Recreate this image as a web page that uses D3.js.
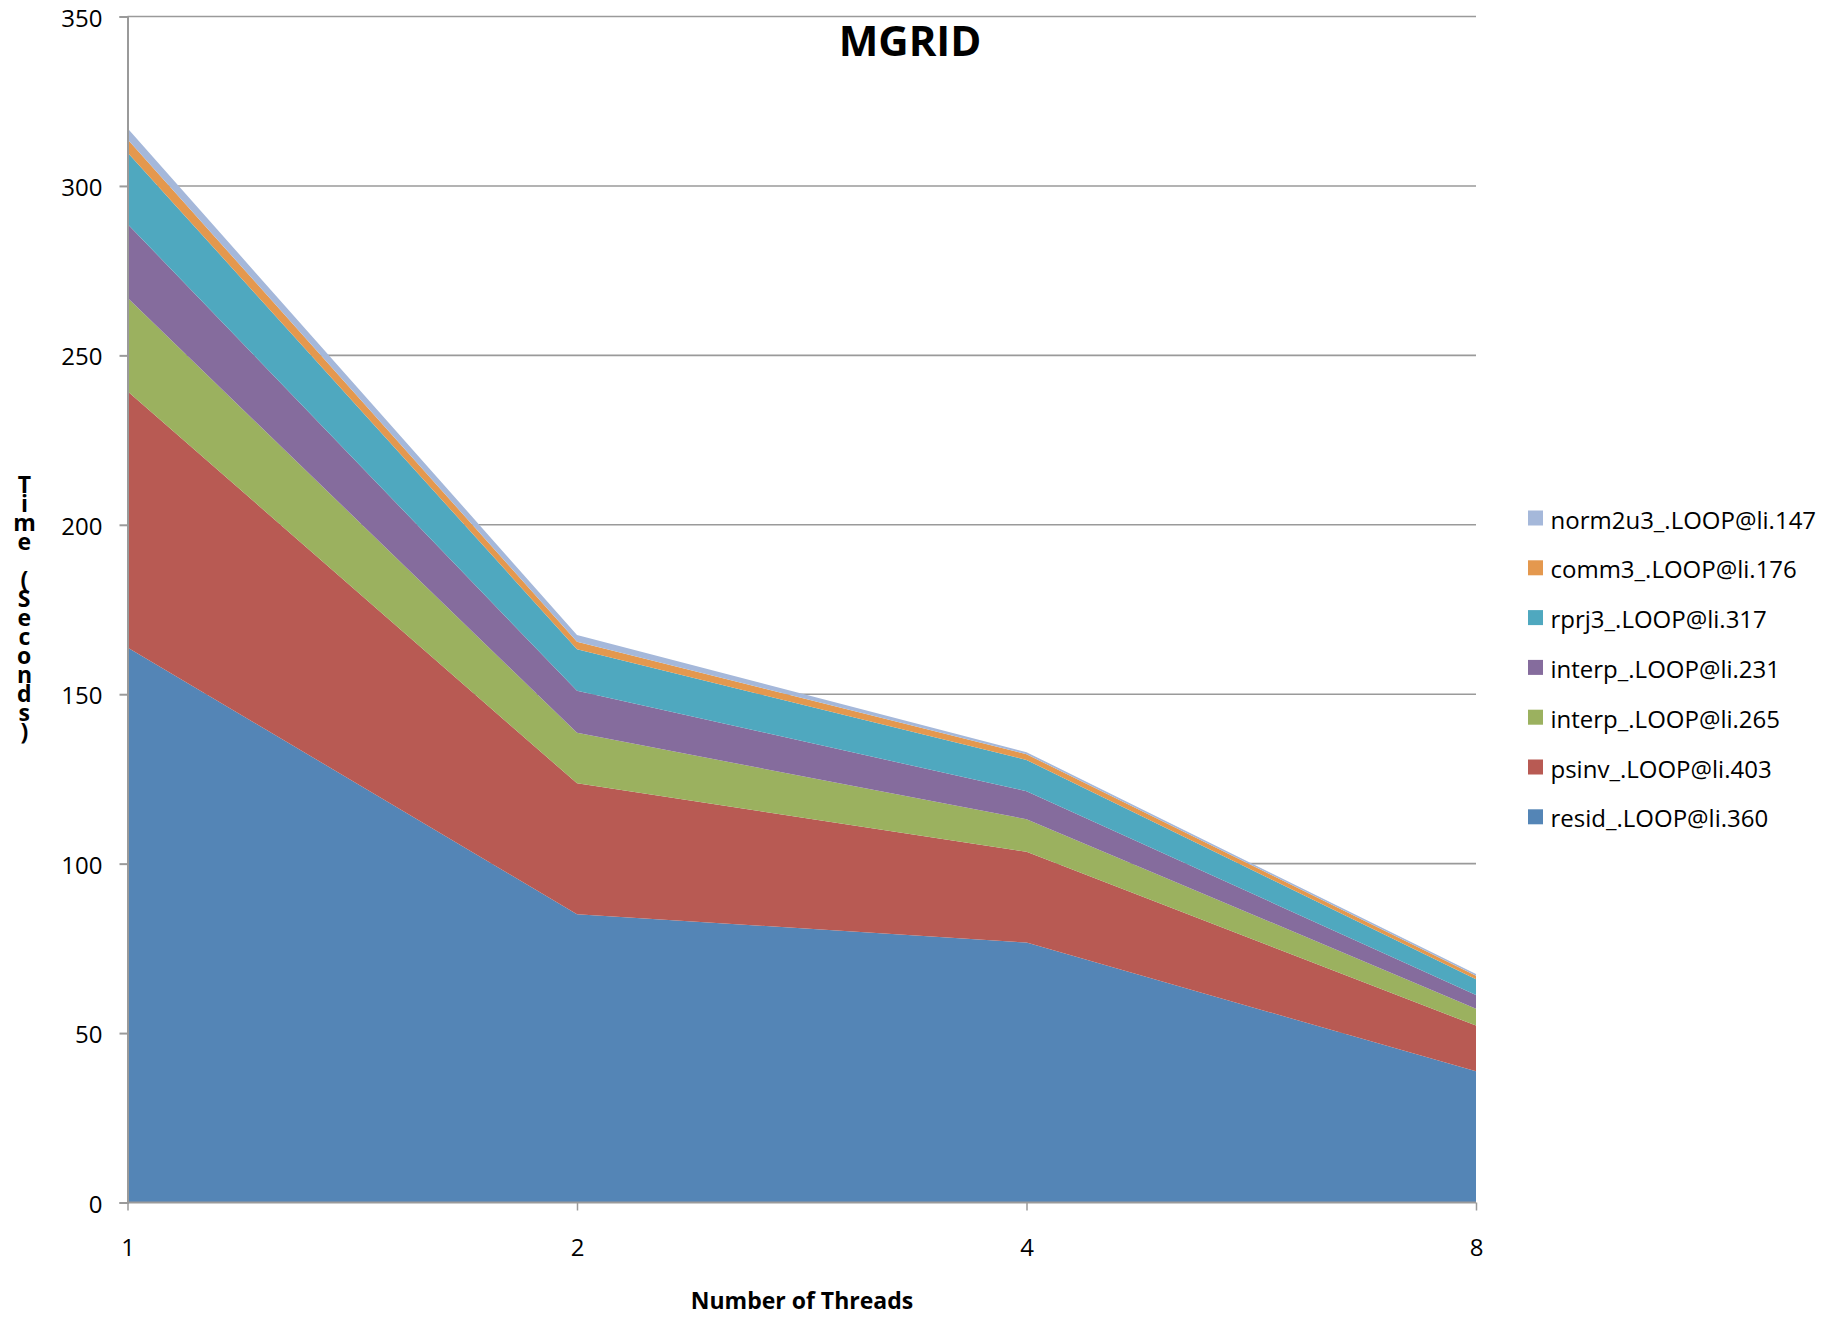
<!DOCTYPE html>
<html>
<head>
<meta charset="utf-8">
<script src="https://cdn.jsdelivr.net/npm/d3@7"></script>
<style>
  html, body { margin: 0; padding: 0; background: #fff; }
  svg { display: block; }
  text { font-family: "Open Sans", "Liberation Sans", sans-serif; fill: #000; }
</style>
</head>
<body>
<svg id="chart" width="1843" height="1326"></svg>
<script>
// Thread counts on the x axis
const threads = ["1", "2", "4", "8"];

// Time per loop (seconds), bottom layer first
const seriesNames = [
  "resid_.LOOP@li.360",
  "psinv_.LOOP@li.403",
  "interp_.LOOP@li.265",
  "interp_.LOOP@li.231",
  "rprj3_.LOOP@li.317",
  "comm3_.LOOP@li.176",
  "norm2u3_.LOOP@li.147"
];
const resid   = [163.8, 85.1, 76.7, 38.7];
const psinv   = [75.6, 38.6, 26.8, 13.5];
const interp265 = [27.6, 14.9, 9.6, 5.0];
const interp231 = [21.8, 12.4, 8.3, 4.0];
const rprj3   = [21.1, 12.3, 9.2, 4.7];
const comm3   = [3.9, 2.2, 1.7, 1.0];
const norm2u3 = [3.2, 2.0, 0.6, 0.5];

const yTicks = [0, 50, 100, 150, 200, 250, 300, 350];

const seriesColors = ["#5485b6", "#b85a53", "#9bb15f", "#856c9d", "#4fa8bf", "#e4984e", "#a5b8da"];

const seriesValues = [resid, psinv, interp265, interp231, rprj3, comm3, norm2u3];
const rows = threads.map((t, i) => {
  const r = { threads: t };
  seriesNames.forEach((n, k) => { r[n] = seriesValues[k][i]; });
  return r;
});

const svg = d3.select("#chart");
const plotLeft = 127.5, plotRight = 1476, plotTop = 16.5, plotBottom = 1202.5;

const x = d3.scalePoint().domain(threads).range([plotLeft, plotRight]);
const y = d3.scaleLinear().domain([0, 350]).range([plotBottom, plotTop]);

// horizontal gridlines
svg.append("g")
  .selectAll("line")
  .data(yTicks.filter(v => v > 0))
  .join("line")
  .attr("x1", plotLeft).attr("x2", plotRight)
  .attr("y1", d => y(d)).attr("y2", d => y(d))
  .attr("stroke", "#9a9a9a").attr("stroke-width", 1.6);

// stacked areas
const stack = d3.stack().keys(seriesNames);
const layers = stack(rows);
const area = d3.area()
  .x(d => x(d.data.threads))
  .y0(d => y(d[0]))
  .y1(d => y(d[1]));

svg.append("g")
  .selectAll("path")
  .data(layers)
  .join("path")
  .attr("d", area)
  .attr("fill", (d, i) => seriesColors[i]);

// y axis
const yAxis = svg.append("g")
  .attr("transform", `translate(${plotLeft},0)`)
  .call(d3.axisLeft(y).tickValues(yTicks).tickSize(8).tickPadding(17).tickFormat(d3.format("d")));
yAxis.select(".domain").attr("stroke", "#9a9a9a").attr("stroke-width", 2);
yAxis.selectAll(".tick line").attr("stroke", "#9a9a9a").attr("stroke-width", 2);
yAxis.selectAll(".tick text")
  .style("font-family", "'Open Sans', sans-serif")
  .style("font-size", "24px")
  .attr("fill", "#000")
  .attr("dy", "0.4em");

// x axis
const xAxis = svg.append("g")
  .attr("transform", `translate(0,${plotBottom})`)
  .call(d3.axisBottom(x).tickSize(8).tickPadding(28));
xAxis.select(".domain").attr("stroke", "#9a9a9a").attr("stroke-width", 2)
  .attr("d", `M${plotLeft},0H${plotRight}`);
xAxis.selectAll(".tick line").attr("stroke", "#9a9a9a").attr("stroke-width", 1.5);
xAxis.selectAll(".tick text")
  .style("font-family", "'Open Sans', sans-serif")
  .style("font-size", "24px")
  .attr("fill", "#000");

// title
svg.append("text")
  .attr("x", 910).attr("y", 56)
  .attr("text-anchor", "middle")
  .style("font-size", "42px").style("font-weight", "bold")
  .text("MGRID");

// x axis title
svg.append("text")
  .attr("x", 802).attr("y", 1309)
  .attr("text-anchor", "middle")
  .style("font-size", "23px").style("font-weight", "bold")
  .text("Number of Threads");

// y axis title, upright letters stacked top to bottom
svg.append("text")
  .attr("x", 24).attr("y", 468)
  .style("writing-mode", "vertical-lr")
  .style("text-orientation", "upright")
  .style("letter-spacing", "-13px")
  .style("font-size", "23px").style("font-weight", "bold")
  .text("Time  (Seconds)");

// legend, top layer listed first
const legendItems = seriesNames.map((n, i) => ({ name: n, color: seriesColors[i] })).reverse();
const legend = svg.append("g")
  .selectAll("g")
  .data(legendItems)
  .join("g")
  .attr("transform", (d, i) => `translate(1528,${518 + i * 49.8})`);
legend.append("rect")
  .attr("x", 0).attr("y", -7.5).attr("width", 15).attr("height", 15)
  .attr("fill", d => d.color);
legend.append("text")
  .attr("x", 22.5).attr("y", 10.5)
  .style("font-size", "24px")
  .text(d => d.name);
</script>
</body>
</html>
